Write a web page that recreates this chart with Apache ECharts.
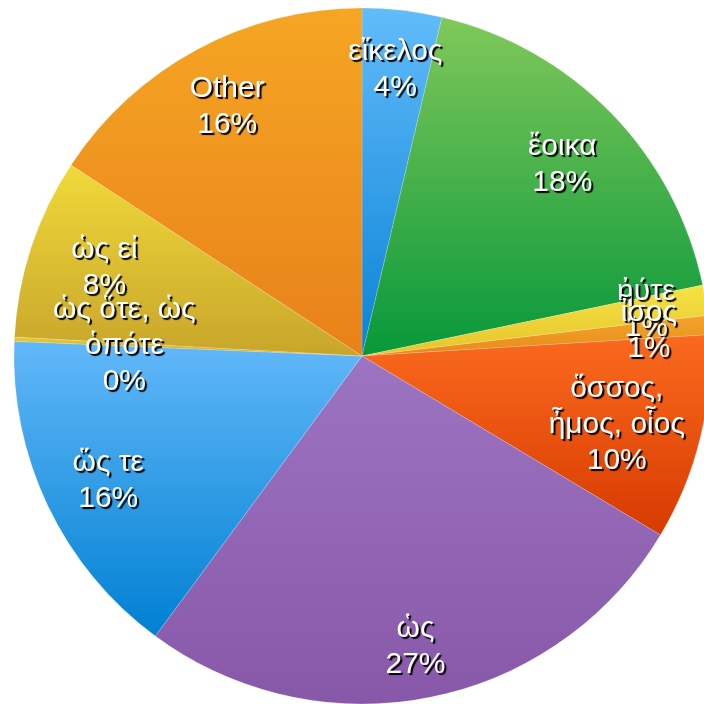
<!DOCTYPE html>
<html>
<head>
<meta charset="utf-8">
<script src="https://cdn.jsdelivr.net/npm/echarts@6/dist/echarts.min.js"></script>
<style>
  html, body { margin: 0; padding: 0; background: #fff; }
  #main { width: 704px; height: 704px; }
</style>
</head>
<body>
<div id="main"></div>
<script>
const categories = ['εἴκελος', 'ἔοικα', 'ἠύτε', 'ἶσος', 'ὅσσος, ἦμος, οἷος', 'ὡς', 'ὥς τε', 'ὡς ὅτε, ὡς ὁπότε', 'ὡς εἰ', 'Other'];
const values = [3.7, 18.1, 1.4, 0.9, 9.6, 26.6, 15.6, 0.2, 8.4, 15.8];
// top / bottom colour of each slice gradient
const topColors = ['#62bcfa', '#80c85a', '#f6e244', '#f2a52c', '#fb6a1e', '#9c74c2', '#62b8f9', '#e8cc34', '#f0da3a', '#f5a623'];
const bottomColors = ['#0a82d6', '#07983a', '#e6c42c', '#e88a18', '#d63a00', '#8858a8', '#0080d2', '#c9a52a', '#c8a52a', '#e8811a'];

const wrapped = {
    'ὅσσος, ἦμος, οἷος': 'ὅσσος,\nἦμος, οἷος',
    'ὡς ὅτε, ὡς ὁπότε': 'ὡς ὅτε, ὡς\nὁπότε'
};
// nudges for the crowded labels
const labelNudge = {
    'ἔοικα': [-6, 10],
    'ὡς': [-3, 8],
    'Other': [2, 4],
    'ὥς τε': [6, 0],
    'ὅσσος, ἦμος, οἷος': [-25, 0],
    'ὡς ὅτε, ὡς ὁπότε': [50, 4],
    'ὡς εἰ': [16, 2]
};

const chart = echarts.init(document.getElementById('main'));
const total = values.reduce((a, b) => a + b, 0);

const pieData = categories.map((name, i) => ({
    name: name,
    value: values[i],
    itemStyle: {
        color: new echarts.graphic.LinearGradient(0, 0, 0, 1, [
            { offset: 0, color: topColors[i] },
            { offset: 1, color: bottomColors[i] }
        ])
    }
}));

const labelData = categories.map((name, i) => {
    const d = { name: name, value: values[i] };
    if (labelNudge[name]) d.label = { offset: labelNudge[name] };
    return d;
});

chart.setOption({
    animation: false,
    series: [
        {
            type: 'pie',
            center: [362, 356],
            radius: [0, 348],
            startAngle: 90,
            clockwise: true,
            silent: true,
            label: { show: false },
            labelLine: { show: false },
            itemStyle: { borderColor: 'rgba(255,255,255,0.35)', borderWidth: 0.5 },
            data: pieData
        },
        {
            type: 'pie',
            center: [362, 356],
            radius: [222, 348],
            startAngle: 90,
            clockwise: true,
            silent: true,
            avoidLabelOverlap: false,
            labelLayout: { hideOverlap: false },
            itemStyle: { color: 'rgba(0,0,0,0)' },
            labelLine: { show: false },
            label: {
                show: true,
                position: 'inside',
                formatter: (p) => (wrapped[p.name] || p.name) + '\n' + Math.round(p.value / total * 100) + '%',
                color: '#fff',
                fontFamily: 'Liberation Sans, Arial, sans-serif',
                fontSize: 30,
                lineHeight: 36,
                textShadowColor: '#000',
                textShadowBlur: 1,
                textShadowOffsetX: 2,
                textShadowOffsetY: 2
            },
            data: labelData
        }
    ]
});
</script>
</body>
</html>
